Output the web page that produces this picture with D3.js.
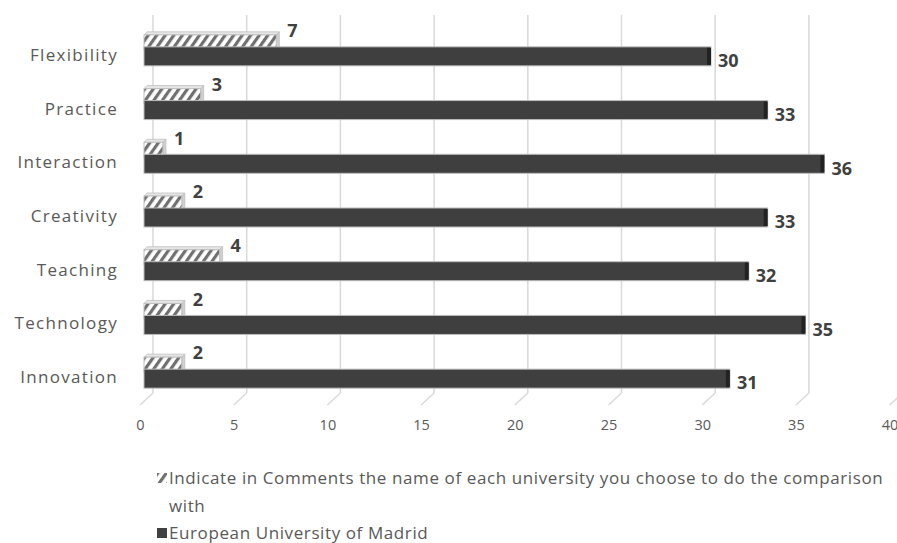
<!DOCTYPE html>
<html><head><meta charset="utf-8">
<script src="https://cdn.jsdelivr.net/npm/d3@7"></script>
<style>body{margin:0;background:#fff;} svg{display:block;}</style>
</head><body>
<svg id="chart" width="897" height="543"></svg>
<script>
const categories = ["Flexibility","Practice","Interaction","Creativity","Teaching","Technology","Innovation"];
const comparisonValues = [7,3,1,2,4,2,2];
const madridValues = [30,33,36,33,32,35,31];
const tickValues = [0,5,10,15,20,25,30,35,40];
const seriesNames = ["Indicate in Comments the name of each university you choose to do the comparison","European University of Madrid"];

const svg = d3.select("#chart");
const font = "'Open Sans', sans-serif";

// front (bar) scale and back-wall/axis scale (3D perspective)
const x = d3.scaleLinear().domain([0,40]).range([144, 900]);
const xAxis = d3.scaleLinear().domain([0,40]).range([140, 889.6]);
const y = d3.scaleBand().domain(categories).range([28, 404]);
const cy = d => y(d) + y.bandwidth()/2;
const wallShift = 13;

const defs = svg.append("defs");
const pat = defs.append("pattern").attr("id","hatch").attr("patternUnits","userSpaceOnUse")
  .attr("width",7).attr("height",7).attr("patternTransform","rotate(35)");
pat.append("rect").attr("width",7).attr("height",7).attr("fill","#fff");
pat.append("rect").attr("x",0).attr("y",0).attr("width",3.2).attr("height",7).attr("fill","#707070");

// gridlines on back wall
const grid = svg.append("g");
tickValues.forEach(t => {
  const gx = xAxis(t) + wallShift;
  grid.append("line").attr("x1",gx).attr("x2",gx).attr("y1",15).attr("y2",393)
    .attr("stroke","#d9d9d9").attr("stroke-width",1.5);
  grid.append("line").attr("x1",gx).attr("x2",gx-13).attr("y1",393).attr("y2",405)
    .attr("stroke","#d9d9d9").attr("stroke-width",1.5);
});

// axis tick labels
const axisG = svg.append("g").attr("transform","translate(0,425)")
  .call(d3.axisBottom(xAxis).tickValues(tickValues).tickSize(0).tickPadding(0));
axisG.select(".domain").remove();
axisG.selectAll("text").attr("font-family",font).attr("font-size",14.5).attr("fill","#595959").attr("dy","0.32em");

// category labels
svg.append("g").selectAll("text").data(categories).join("text")
  .attr("x",118).attr("y",d=>cy(d)).attr("dy","0.35em").attr("text-anchor","end")
  .attr("font-family",font).attr("font-size",17).attr("letter-spacing",1.3).attr("fill","#595959").text(d=>d);

// hatched bars
const hb = svg.append("g");
categories.forEach((c,i) => {
  const v = comparisonValues[i];
  const top = cy(c) - 20, h = 15, x0 = x(0), x1 = x(v);
  hb.append("path").attr("d",`M${x0},${top} L${x0+3},${top-3} L${x1+3},${top-3} L${x1},${top} Z`)
    .attr("fill","#e6e6e6").attr("stroke","#bfbfbf").attr("stroke-width",0.8);
  hb.append("path").attr("d",`M${x1},${top} L${x1+3},${top-3} L${x1+3},${top+h-3} L${x1},${top+h} Z`)
    .attr("fill","#d0d0d0").attr("stroke","#bfbfbf").attr("stroke-width",0.8);
  hb.append("rect").attr("x",x0).attr("y",top).attr("width",x1-x0).attr("height",h)
    .attr("fill","url(#hatch)").attr("stroke","#bfbfbf").attr("stroke-width",1);
  hb.append("text").attr("x",x1+11).attr("y",cy(c)-24).attr("dy","0.35em")
    .attr("font-family",font).attr("font-weight","bold").attr("font-size",18).attr("fill","#404040").text(v);
});

// dark bars
const db = svg.append("g");
categories.forEach((c,i) => {
  const v = madridValues[i];
  const top = cy(c) - 8, h = 19, x0 = x(0), x1 = x(v);
  db.append("rect").attr("x",x0).attr("y",top).attr("width",x1-x0).attr("height",h)
    .attr("fill","#3f3f3f").attr("stroke","#bcbcbc").attr("stroke-width",1);
  db.append("path").attr("d",`M${x1-4},${top+1} L${x1},${top+1} L${x1},${top+h-1} L${x1-4},${top+h-1} Z`)
    .attr("fill","#222");
  db.append("text").attr("x",x1+7).attr("y",cy(c)+6).attr("dy","0.35em")
    .attr("font-family",font).attr("font-weight","bold").attr("font-size",18).attr("fill","#404040").text(v);
});

// legend
const lg = svg.append("g");
lg.append("rect").attr("x",157).attr("y",473).attr("width",10).attr("height",10).attr("fill","url(#hatch)");
lg.append("text").attr("x",169).attr("y",478).attr("dy","0.35em").attr("font-family",font)
  .attr("font-size",17).attr("letter-spacing",0.6).attr("fill","#595959").text(seriesNames[0]);
lg.append("text").attr("x",169).attr("y",506).attr("dy","0.35em").attr("font-family",font)
  .attr("font-size",17).attr("letter-spacing",0.6).attr("fill","#595959").text("with");
lg.append("rect").attr("x",157).attr("y",528).attr("width",10).attr("height",10).attr("fill","#404040");
lg.append("text").attr("x",169).attr("y",533).attr("dy","0.35em").attr("font-family",font)
  .attr("font-size",17).attr("letter-spacing",0.6).attr("fill","#595959").text(seriesNames[1]);
</script>
</body></html>
